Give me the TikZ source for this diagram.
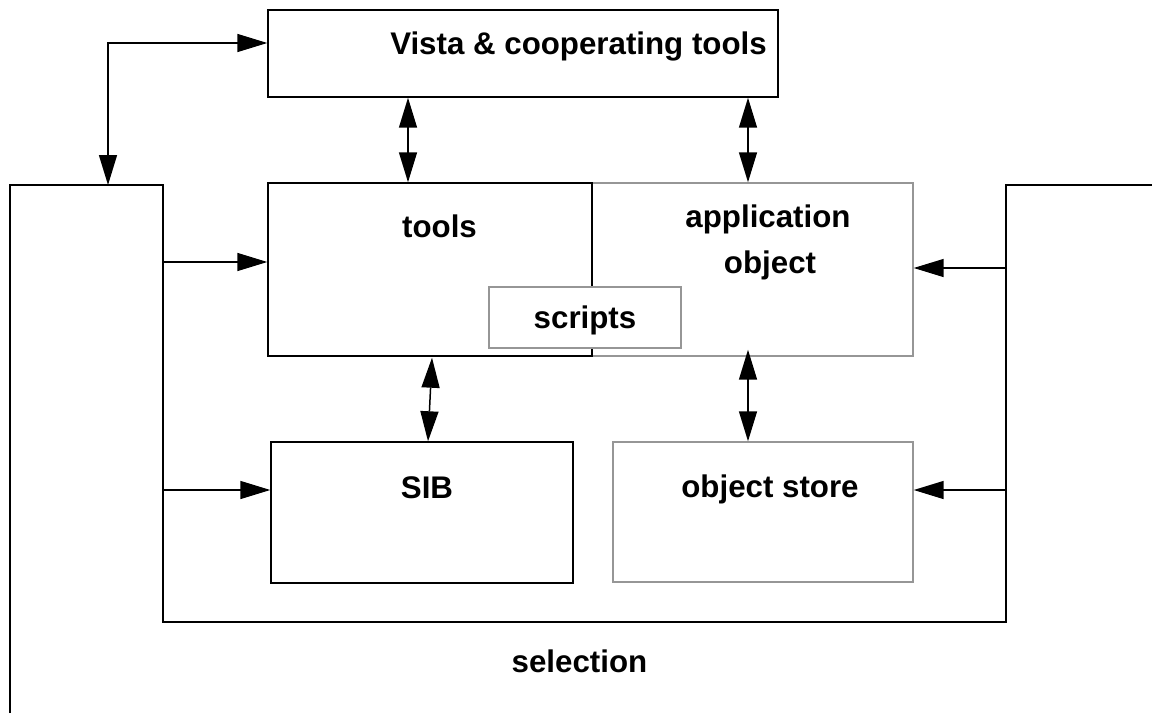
\documentclass[tikz,border=0pt]{standalone}
\usepackage{fontspec}
\setmainfont{Liberation Sans}
\usetikzlibrary{arrows.meta,positioning,calc}
\definecolor{Ink}{HTML}{000000}
\definecolor{Shade}{HTML}{969696}

\begin{document}
\begin{tikzpicture}[x=0.02cm,y=-0.02cm,
  box/.style={draw=Ink,line width=0.85pt,fill=white,inner sep=0pt},
  greybox/.style={box,draw=Shade},
  lbl/.style={font=\fontsize{17.8}{26.1}\selectfont\bfseries,text=Ink,inner sep=0pt,anchor=base},
  link/.style={Ink,line width=0.85pt,{Triangle[length=0.6cm,width=0.36cm]}-{Triangle[length=0.6cm,width=0.36cm]}},
  feed/.style={Ink,line width=0.85pt,-{Triangle[length=0.6cm,width=0.36cm]}}]
\useasboundingbox (0,0) rectangle (1155,713);

% selection outline
\coordinate (sel-bl) at (10,713);
\coordinate (sel-tl) at (10,185);
\coordinate (sel-in-l) at (163,185);
\coordinate (sel-low-l) at (163,622);
\coordinate (sel-low-r) at (1006,622);
\coordinate (sel-in-r) at (1006,185);
\coordinate (sel-tr) at (1152,185);
\draw[Ink,line width=0.85pt] (sel-bl) -- (sel-tl) -- (sel-in-l) -- (sel-low-l) -- (sel-low-r) -- (sel-in-r) -- (sel-tr);

% boxes
\node[box,minimum width=10.2cm,minimum height=1.74cm] (vista) at (523,53.5) {};
\node[greybox,minimum width=6.42cm,minimum height=3.46cm] (app) at (752.5,269.5) {};
\node[box,fill=none,minimum width=6.48cm,minimum height=3.46cm] (tools) at (430,269.5) {};
\node[greybox,minimum width=3.84cm,minimum height=1.22cm] (scripts) at (585,317.5) {};
\node[box,minimum width=6.04cm,minimum height=2.82cm] (sib) at (422,512.5) {};
\node[greybox,minimum width=6.0cm,minimum height=2.8cm] (store) at (763,512) {};

% labels
\node[lbl] (vista-t) at (578.5,55) {Vista \& cooperating tools};
\node[lbl] (tools-t) at (439.5,237) {tools};
\node[lbl] (app-t) at (768,227) {application};
\node[lbl] (app-t2) at (770,273) {object};
\node[lbl] (scripts-t) at (585,328) {scripts};
\node[lbl] (sib-t) at (427,498) {SIB};
\node[lbl] (store-t) at (770,497) {object store};
\node[lbl] (sel-t) at (579.5,672) {selection};

% connectors
\coordinate (bend) at (108,43);
\coordinate (c1) at (408,0);
\coordinate (c2) at (748,0);
\coordinate (c3) at (432,0);
\coordinate (c4) at (428,0);
\coordinate (r1) at (0,262);
\coordinate (r2) at (0,490);
\coordinate (r3) at (0,268);
\draw[link] (vista.west |- bend) -- (bend) -- (bend |- sel-tl);
\draw[link] (vista.south -| c1) -- (tools.north -| c1);
\draw[link] (vista.south -| c2) -- (app.north -| c2);
\draw[link] ([yshift=0.14cm]app.south -| c2) -- (store.north -| c2);
\draw[link] ([yshift=-0.02cm]tools.south -| c3) -- (sib.north -| c4);
\draw[feed] (sel-in-l |- r1) -- (tools.west |- r1);
\draw[feed] (sel-in-l |- r2) -- (sib.west |- r2);
\draw[feed] (sel-in-r |- r3) -- (app.east |- r3);
\draw[feed] (sel-in-r |- r2) -- (store.east |- r2);
\end{tikzpicture}
\end{document}
